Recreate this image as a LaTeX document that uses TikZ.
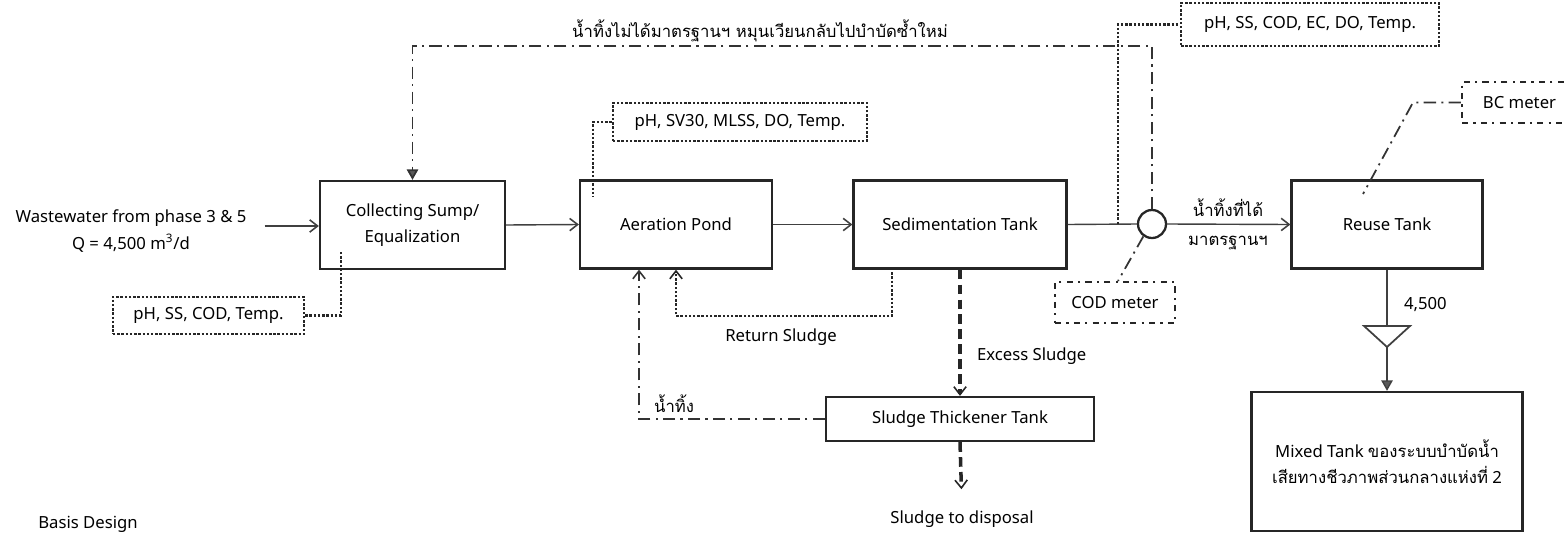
\documentclass[tikz,border=0pt]{standalone}
\usepackage{fontspec}
\setmainfont{Noto Sans}
\newfontfamily\thaif[Script=Thai]{Loma}
\usetikzlibrary{arrows.meta,calc}
\tikzset{
  ln/.style={draw=black!75, line width=0.8pt},
  box/.style={draw=black!85, line width=1.3pt, inner sep=0pt, minimum height=1.76cm, align=center},
  param/.style={draw=black!85, line width=1.4pt, dash pattern=on 1.4pt off 1pt, inner sep=0pt, minimum height=0.76cm},
  meter/.style={draw=black!85, line width=1.2pt, dash pattern=on 3.5pt off 3pt on 1.2pt off 3pt, inner sep=0pt, minimum height=0.82cm},
  dotl/.style={draw=black!85, line width=1.4pt, dash pattern=on 1.4pt off 1pt},
  ddl/.style={draw=black!80, line width=1pt, dash pattern=on 7pt off 3pt on 1.2pt off 3pt},
  dashl/.style={draw=black!85, line width=2pt, dash pattern=on 5.5pt off 3pt},
  barb/.style={-{Straight Barb[length=4.5pt,width=7pt,line width=0.9pt]}},
  tri/.style={-{Triangle[length=6pt,width=6.5pt,fill=black!65]}},
  lbl/.style={inner sep=1pt, align=center},
}
\begin{document}
\begin{tikzpicture}[x=0.02cm,y=-0.02cm,font=\fontsize{9.5}{15}\selectfont]
\useasboundingbox (0,0) rectangle (1567,534);
% main boxes
\node[box, minimum width=3.7cm] (coll) at (412.5,225) {Collecting Sump/\\Equalization};
\node[box, minimum width=3.84cm] (aer) at (676,224.5) {Aeration Pond};
\node[box, minimum width=4.26cm] (sed) at (960,224.5) {Sedimentation Tank};
\node[box, minimum width=3.82cm] (reuse) at (1387,224.5) {Reuse Tank};
\node[box, minimum width=5.36cm, minimum height=0.88cm] (thick) at (960,419) {Sludge Thickener Tank};
\node[box, minimum width=5.42cm, minimum height=2.78cm] (mixed) at (1387,461.5) {Mixed Tank {\thaif ของระบบบำบัดน้ำ}\\{\thaif เสียทางชีวภาพส่วนกลางแห่งที่} 2};
% parameter boxes
\node[param, minimum width=3.82cm, minimum height=0.74cm] (p1) at (208.5,315.5) {pH, SS, COD, Temp.};
\node[param, minimum width=5.08cm] (p2) at (740,122) {pH, SV30, MLSS, DO, Temp.};
\node[param, minimum width=5.16cm, minimum height=0.86cm] (p3) at (1310,24.5) {pH, SS, COD, EC, DO, Temp.};
\node[meter, minimum width=2.4cm] (codm) at (1115,302.5) {COD meter};
\node[meter, minimum width=2.3cm] (bcm) at (1519.5,102.5) {BC meter};
\node[draw=black!85, line width=1.3pt, circle, minimum size=0.56cm, inner sep=0pt] (circ) at (1152,224) {};
% labels
\node[lbl] (ww) at (131,231) {Wastewater from phase 3 \& 5\\Q = 4,500 m\textsuperscript{3}/d};
\node[lbl] (toplbl) at (760,31) {\thaif น้ำทิ้งไม่ได้มาตรฐานฯ หมุนเวียนกลับไปบำบัดซ้ำใหม่};
\node[lbl] (ok1) at (1228,208) {\thaif น้ำทิ้งที่ได้};
\node[lbl] (ok2) at (1228,243) {\thaif มาตรฐานฯ};
\node[lbl] (retl) at (781,337) {Return Sludge};
\node[lbl, anchor=west] (excl) at (975,356) {Excess Sludge};
\node[lbl, anchor=west] (wl) at (652,404) {\thaif น้ำทิ้ง};
\node[lbl] (disp) at (962,519) {Sludge to disposal};
\node[lbl, anchor=west] (q) at (1402,305) {4,500};
\node[lbl, anchor=south west, inner sep=0pt] (basis) at (38,533) {Basis Design};
% coordinates
\coordinate (c1) at (341,252);
\coordinate (c2) at (593,197);
\coordinate (tap) at (1118,224);
\coordinate (topL) at (412.5,46);
\coordinate (r1) at (892,268);
\coordinate (r2) at (676,316);
\coordinate (bcend) at (1363,194);
\coordinate (triL) at (1364,326);
\coordinate (triR) at (1410,326);
\coordinate (triT) at (1387,326);
\coordinate (triB) at (1387,347);
% main flow
\draw[ln, barb] (ww.east) ++(16,-5) coordinate (wwa) -- (coll.west |- wwa);
\draw[ln, barb] (coll.east) -- (aer.west);
\draw[ln, barb] (aer.east) -- (sed.west);
\draw[ln] (sed.east) -- (circ.west);
\draw[ln, barb] (circ.east) -- (reuse.west);
\draw[ln] (reuse.south) -- (triT);
\draw[ln, line width=1pt] (triL) -- (triR) -- (triB) -- cycle;
\draw[ln, tri] (triB) -- (mixed.north);
% monitoring
\draw[dotl] (p1.east) -| (c1);
\draw[dotl] (p2.west) -| (c2);
\draw[dotl] (tap) |- (p3.west);
% recycle
\draw[ddl, tri] (circ.north) |- (topL) -- (coll.north);
% return sludge
\draw[dotl, barb] (r1) |- (r2) -- (aer.south);
% thickener return
\draw[ddl, barb] (thick.west) -| ([xshift=-0.74cm]aer.south);
% excess sludge
\draw[dashl, barb] (sed.south) -- (thick.north);
\draw[dashl, barb, shorten >=11pt] (thick.south) -- (disp.north);
% meters
\draw[ddl] (circ.235) -- ([xshift=0.06cm]codm.north);
\draw[ddl] (bcm.west) -- ++(-48,0) -- (bcend);
\end{tikzpicture}
\end{document}
